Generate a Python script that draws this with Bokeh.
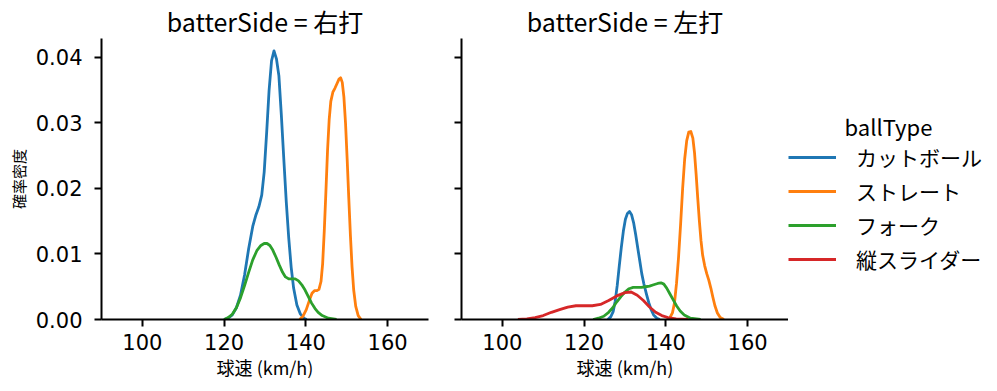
from bokeh.plotting import figure
from bokeh.models import Range1d, FixedTicker, Legend, LegendItem, Label, NumeralTickFormatter
from bokeh.layouts import row
from bokeh.embed import file_html
from bokeh.resources import INLINE

FONT = "Noto Sans CJK JP"
TICK_FONT = "DejaVu Sans"

ball_types = ["カットボール", "ストレート", "フォーク", "縦スライダー"]
colors = ["#1f77b4", "#ff7f0e", "#2ca02c", "#d62728"]
panel_titles = ["batterSide = 右打", "batterSide = 左打"]
legend_title = "ballType"
x_ticks = [100, 120, 140, 160]
y_ticks = [0.0, 0.01, 0.02, 0.03, 0.04]

# --- 右打 (density curves) ---
cut_r_x = [120.0, 121.0, 122.0, 123.0, 124.0, 125.0, 126.0, 127.0, 127.8, 128.5, 129.2, 129.8, 130.4, 131.0, 131.6, 132.2,
           132.8, 133.4, 134.0, 134.6, 135.2, 135.8, 136.4, 137.0, 137.8, 138.6, 139.5, 140.2]
cut_r_y = [0.0, 0.0002, 0.0007, 0.0018, 0.0037, 0.0068, 0.0108, 0.0142, 0.0160, 0.0172, 0.0190, 0.0225, 0.0285, 0.0350, 0.0395, 0.0410,
           0.0398, 0.0372, 0.0312, 0.0245, 0.0180, 0.0125, 0.0080, 0.0048, 0.0022, 0.0009, 0.0002, 0.0]
str_r_x = [138.5, 139.3, 140.1, 140.9, 141.5, 142.1, 142.7, 143.2, 143.7, 144.1, 144.5, 144.9, 145.3, 145.7, 146.1, 146.6,
           147.1, 147.6, 148.1, 148.5, 148.9, 149.3, 149.7, 150.1, 150.5, 150.9, 151.3, 151.7, 152.2, 152.8, 153.5]
str_r_y = [0.0, 0.0005, 0.0015, 0.0030, 0.0040, 0.0044, 0.0044, 0.0046, 0.0058, 0.0085, 0.0135, 0.0195, 0.0258, 0.0305, 0.0333, 0.0347,
           0.0353, 0.0360, 0.0367, 0.0369, 0.0362, 0.0340, 0.0300, 0.0245, 0.0185, 0.0128, 0.0080, 0.0045, 0.0020, 0.0006, 0.0]
frk_r_x = [120.0, 121.0, 122.0, 123.0, 124.0, 125.0, 126.0, 127.0, 128.0, 129.0, 129.8, 130.5, 131.2, 131.9, 132.7, 133.5,
           134.3, 135.0, 135.8, 136.6, 137.4, 138.2, 139.0, 139.8, 140.6, 141.4, 142.2, 143.0, 144.0, 145.5, 147.5]
frk_r_y = [0.0, 0.0003, 0.0008, 0.0018, 0.0033, 0.0052, 0.0072, 0.0091, 0.0105, 0.0113, 0.0116, 0.0116, 0.0113, 0.0106, 0.0095, 0.0083,
           0.0072, 0.0065, 0.0062, 0.0062, 0.0062, 0.0059, 0.0053, 0.0045, 0.0035, 0.0025, 0.0017, 0.0011, 0.0006, 0.0002, 0.0]

# --- 左打 (density curves) ---
cut_l_x = [125.8, 126.5, 127.1, 127.6, 128.1, 128.6, 129.1, 129.6, 130.1, 130.6, 131.1, 131.6, 132.1, 132.6, 133.1, 133.6,
           134.1, 134.6, 135.2, 135.8, 136.4, 137.0, 137.8, 138.5]
cut_l_y = [0.0, 0.0004, 0.0012, 0.0028, 0.0052, 0.0082, 0.0110, 0.0135, 0.0153, 0.0162, 0.0165, 0.0160, 0.0148, 0.0130, 0.0110, 0.0090,
           0.0070, 0.0055, 0.0040, 0.0026, 0.0015, 0.0007, 0.0002, 0.0]
str_l_x = [140.3, 141.0, 141.6, 142.1, 142.6, 143.1, 143.6, 144.1, 144.6, 145.1, 145.6, 146.1, 146.6, 147.0, 147.4, 147.8,
           148.2, 148.6, 149.0, 149.5, 150.0, 150.5, 151.0, 151.5, 152.0, 152.6, 153.3, 154.2]
str_l_y = [0.0, 0.0003, 0.0010, 0.0025, 0.0055, 0.0095, 0.0145, 0.0200, 0.0245, 0.0273, 0.0286, 0.0287, 0.0277, 0.0255, 0.0222, 0.0185,
           0.0150, 0.0120, 0.0098, 0.0082, 0.0070, 0.0060, 0.0048, 0.0034, 0.0021, 0.0010, 0.0003, 0.0]
frk_l_x = [122.2, 123.5, 124.8, 126.0, 127.0, 128.0, 129.0, 130.0, 131.0, 132.0, 133.0, 134.0, 135.0, 136.0, 137.0, 138.0,
           138.8, 139.5, 140.2, 141.0, 141.8, 142.6, 143.5, 144.5, 146.0, 148.5]
frk_l_y = [0.0, 0.0002, 0.0005, 0.0011, 0.0018, 0.0027, 0.0035, 0.0042, 0.0047, 0.0049, 0.0049, 0.0049, 0.0050, 0.0051, 0.0053, 0.0055,
           0.0056, 0.0054, 0.0048, 0.0039, 0.0030, 0.0021, 0.0013, 0.0007, 0.0002, 0.0]
sld_l_x = [103.8, 106.0, 108.0, 110.0, 112.0, 114.0, 116.0, 118.0, 120.0, 122.0, 124.0, 126.0, 128.0, 130.0, 131.5, 133.0,
           134.5, 136.0, 137.5, 139.0, 140.5, 142.5, 145.4]
sld_l_y = [0.0, 0.0001, 0.0003, 0.0006, 0.0011, 0.0015, 0.0019, 0.0021, 0.0021, 0.0021, 0.0023, 0.0029, 0.0036, 0.0041, 0.0042, 0.0037,
           0.0029, 0.0019, 0.0011, 0.0006, 0.0003, 0.0001, 0.0]

panels = [
    [(cut_r_x, cut_r_y), (str_r_x, str_r_y), (frk_r_x, frk_r_y), None],
    [(cut_l_x, cut_l_y), (str_l_x, str_l_y), (frk_l_x, frk_l_y), (sld_l_x, sld_l_y)],
]

TOP, BOTTOM = 27, 66


def make_fig(i):
    p = figure(frame_width=327, frame_height=281,
               x_range=Range1d(90, 170), y_range=Range1d(0, 0.0429),
               output_backend="svg", toolbar_location=None,
               min_border_left=101 if i == 0 else 25,
               min_border_right=8 if i == 0 else 0,
               min_border_top=TOP, min_border_bottom=BOTTOM,
               background_fill_color="white", border_fill_color="white")
    p.outline_line_color = None
    p.grid.grid_line_color = None
    p.title.text = panel_titles[i]
    p.title.align = "center"
    p.title.text_font = FONT
    p.title.text_font_size = "25px"
    p.title.text_font_style = "normal"
    p.title.text_color = "black"
    p.title.standoff = 0
    for ax in (p.xaxis[0], p.yaxis[0]):
        ax.axis_line_width = 2
        ax.axis_line_color = "black"
        ax.major_tick_line_width = 2
        ax.major_tick_line_color = "black"
        ax.major_tick_out = 7
        ax.major_tick_in = 0
        ax.minor_tick_line_color = None
        ax.major_label_text_font = TICK_FONT
        ax.major_label_text_font_size = "21px"
        ax.major_label_text_color = "black"
        ax.axis_label_text_font = FONT
        ax.axis_label_text_font_style = "normal"
        ax.axis_label_text_color = "black"
    p.xaxis.ticker = FixedTicker(ticks=x_ticks)
    p.yaxis.ticker = FixedTicker(ticks=y_ticks)
    p.yaxis.formatter = NumeralTickFormatter(format="0.00")
    p.xaxis.major_label_standoff = 7
    p.yaxis.major_label_standoff = 12
    p.xaxis.axis_label = "球速 (km/h)"
    p.xaxis.axis_label_text_font_size = "18px"
    p.xaxis.axis_label_standoff = 1
    if i == 0:
        p.yaxis.axis_label = "確率密度"
        p.yaxis.axis_label_text_font_size = "15px"
        p.yaxis.axis_label_standoff = 4
    else:
        p.yaxis.major_label_overrides = {t: "" for t in y_ticks}
    for k, series in enumerate(panels[i]):
        if series is None:
            continue
        xs, ys = series
        p.line(xs, ys, line_color=colors[k], line_width=2.8, line_join="round")
    return p


p1 = make_fig(0)
p2 = make_fig(1)

# legend panel (proxy lines sit outside the visible range, only their legend icons show)
p3 = figure(frame_width=200, frame_height=281, x_range=Range1d(0, 1), y_range=Range1d(0, 1),
            output_backend="svg", toolbar_location=None,
            min_border_left=0, min_border_right=0, min_border_top=TOP, min_border_bottom=BOTTOM,
            background_fill_color="white", border_fill_color="white")
p3.outline_line_color = None
p3.grid.visible = False
p3.axis.visible = False
proxies = [p3.line([-10, -9], [-10, -9], line_color=c, line_width=2.8) for c in colors]

legend = Legend(items=[LegendItem(label=bt, renderers=[r]) for bt, r in zip(ball_types, proxies)],
                location=(0, 45))
legend.border_line_color = None
legend.background_fill_alpha = 0
legend.label_text_font = FONT
legend.label_text_font_size = "21px"
legend.label_text_color = "black"
legend.glyph_width = 48
legend.glyph_height = 20
legend.label_height = 20
legend.spacing = 4
legend.label_standoff = 20
legend.padding = 0
legend.margin = 0
p3.add_layout(legend)

title_lbl = Label(x=100, y=194, x_units="screen", y_units="screen", text=legend_title,
                  text_font=FONT, text_font_size="22px", text_color="black",
                  text_align="center", text_baseline="middle")
p3.add_layout(title_lbl)

layout = row(p1, p2, p3)
open("out.html", "w").write(file_html(layout, INLINE))
